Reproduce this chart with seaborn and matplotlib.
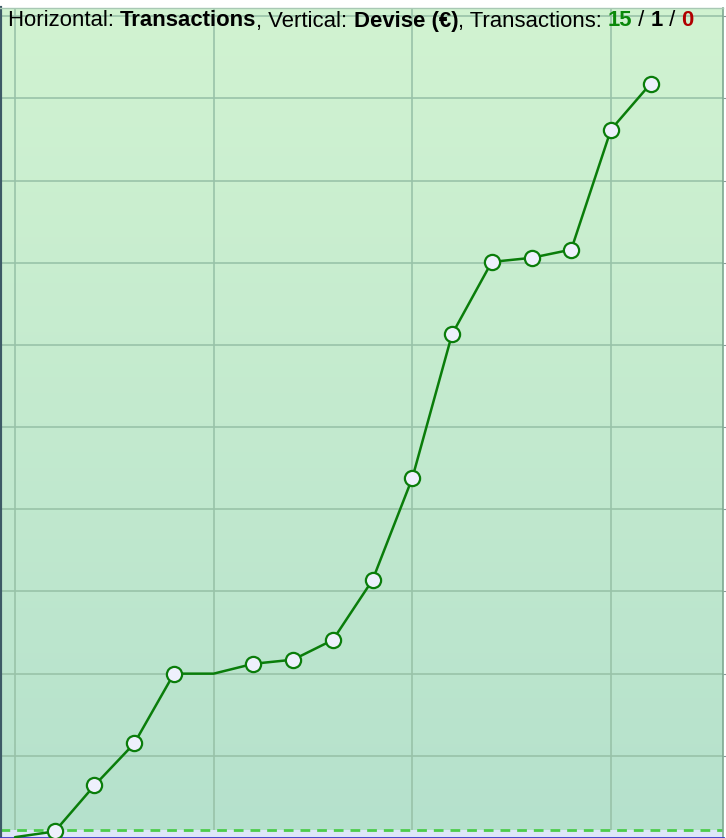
import numpy as np
import pandas as pd
import seaborn as sns
import matplotlib
matplotlib.use('Agg')
import matplotlib.pyplot as plt
from matplotlib.colors import LinearSegmentedColormap

# balance after each transaction (index 0 = start)
tx_index = list(range(17))
balance = [-9, -2, 54, 105, 190, 190, 202, 207, 231, 304, 428, 603, 691, 696, 706, 852, 908]
# transactions without a marker (start point, neutral transaction)
no_marker = [0, 5]

n_pos, n_neutral, n_neg = 15, 1, 0

df = pd.DataFrame({'tx': tx_index, 'balance': balance})
dots = df[~df['tx'].isin(no_marker)]

sns.set_style('white')
plt.rcParams['font.family'] = ['Liberation Sans', 'DejaVu Sans']

fig = plt.figure(figsize=(7.26, 8.38), dpi=100)
ax = fig.add_axes([0.0, 0.0, 723 / 726, 1 - 8 / 838])

x_lo, x_hi = -0.378, 17.82
y_lo, y_hi = -10, 1000
ax.set_xlim(x_lo, x_hi)
ax.set_ylim(y_lo, y_hi)

# background gradient
cmap = LinearSegmentedColormap.from_list('bg', ['#b5e1cc', '#d1f3d1'])
grad = np.linspace(0, 1, 256).reshape(-1, 1)
ax.imshow(grad, cmap=cmap, origin='lower', aspect='auto',
          extent=[x_lo, x_hi, y_lo, y_hi], zorder=0)

# below zero band
ax.axhspan(y_lo, 0, color='#dde6f8', zorder=1, lw=0)
ax.axhline(0, color='#4ccc4c', lw=2, ls=(0, (3.5, 2.5)), zorder=2)

ax.set_xticks([0, 5, 10, 15])
ax.set_yticks(np.arange(-10, 1000, 100))
ax.grid(True, color='#98c2a8', lw=1.3, alpha=0.9, zorder=1)
ax.set_axisbelow(True)
for g in ax.get_xgridlines() + ax.get_ygridlines():
    g.set_zorder(1.5)

sns.lineplot(data=df, x='tx', y='balance', ax=ax, color='#0a7d0a', lw=1.8, zorder=3)
sns.scatterplot(data=dots, x='tx', y='balance', ax=ax, s=120, color='#eef0fc',
                edgecolor='#0a7d0a', linewidth=1.6, zorder=4)

ax.set_xlabel('')
ax.set_ylabel('')
ax.tick_params(axis='x', length=0, labelbottom=False)
ax.tick_params(axis='y', which='both', left=False, right=True, direction='out',
               length=3, color='#8a9a98', labelleft=False, labelright=False)

ax.spines['left'].set_color('#3d5a66')
ax.spines['left'].set_linewidth(3)
ax.spines['right'].set_color('#7ea890')
ax.spines['right'].set_linewidth(1.2)
ax.spines['top'].set_color('#a8c8b4')
ax.spines['top'].set_linewidth(1)
ax.spines['bottom'].set_color('#3a3ac8')
ax.spines['bottom'].set_linewidth(2)

# title line built from pieces
pieces = [
    ('Horizontal: ', 'normal', 'black'),
    ('Transactions', 'bold', 'black'),
    (', Vertical: ', 'normal', 'black'),
    ('Devise (€)', 'bold', 'black'),
    (', Transactions: ', 'normal', 'black'),
    (str(n_pos), 'bold', '#0a880a'),
    (' / ', 'normal', 'black'),
    (str(n_neutral), 'bold', 'black'),
    (' / ', 'normal', 'black'),
    (str(n_neg), 'bold', '#b00000'),
]
fig.canvas.draw()
renderer = fig.canvas.get_renderer()
x_px = 8
for txt, weight, col in pieces:
    t = fig.text(x_px / 726, 1 - 21 / 838, txt, fontsize=15.9, fontweight=weight,
                 color=col, va='center', ha='left')
    bb = t.get_window_extent(renderer=renderer)
    x_px += bb.width

fig.savefig('out.png', dpi=100)
